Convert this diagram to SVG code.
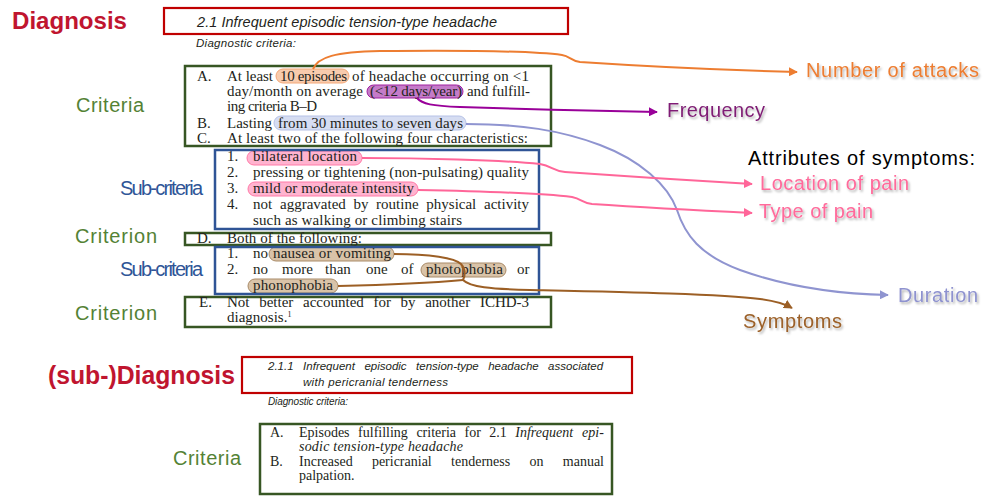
<svg xmlns="http://www.w3.org/2000/svg" width="983" height="496" viewBox="0 0 983 496">
<defs>
<style>
.body{font-family:"Liberation Serif","Times New Roman",serif;font-size:15px;fill:#231f20}
.body2{font-family:"Liberation Serif","Times New Roman",serif;font-size:14px;fill:#231f20}
.it{font-style:italic}
.head{font-family:"Liberation Sans",Arial,sans-serif;font-style:italic;fill:#231f20}
.lab{font-family:"Liberation Sans",Arial,sans-serif;font-size:20px}
.big{font-family:"Liberation Sans",Arial,sans-serif;font-weight:bold;fill:#c0152f}
.green{fill:#548235}
.blue{fill:#2f5597}
.redbox{fill:none;stroke:#c00000;stroke-width:2.2}
.gbox{fill:none;stroke:#375623;stroke-width:2.5}
.bbox{fill:none;stroke:#2f5496;stroke-width:2.5}
.conn{fill:none;stroke-width:2}
</style>
<filter id="sh" x="-10%" y="-30%" width="130%" height="170%">
<feDropShadow dx="1.5" dy="2" stdDeviation="1.2" flood-color="#000" flood-opacity="0.3"/>
</filter>
<marker id="aO" viewBox="0 0 10 10" refX="9" refY="5" markerWidth="9" markerHeight="9" markerUnits="userSpaceOnUse" orient="auto"><path d="M0,0L10,5L0,10z" fill="#ed7d31"/></marker>
<marker id="aP" viewBox="0 0 10 10" refX="9" refY="5" markerWidth="9" markerHeight="9" markerUnits="userSpaceOnUse" orient="auto"><path d="M0,0L10,5L0,10z" fill="#990099"/></marker>
<marker id="aL" viewBox="0 0 10 10" refX="9" refY="5" markerWidth="9" markerHeight="9" markerUnits="userSpaceOnUse" orient="auto"><path d="M0,0L10,5L0,10z" fill="#8f94d0"/></marker>
<marker id="aK" viewBox="0 0 10 10" refX="9" refY="5" markerWidth="9" markerHeight="9" markerUnits="userSpaceOnUse" orient="auto"><path d="M0,0L10,5L0,10z" fill="#ff6699"/></marker>
<marker id="aB" viewBox="0 0 10 10" refX="9" refY="5" markerWidth="9" markerHeight="9" markerUnits="userSpaceOnUse" orient="auto"><path d="M0,0L10,5L0,10z" fill="#9c5f25"/></marker>
</defs>
<rect width="983" height="496" fill="#fff"/>

<!-- left labels -->
<g id="label-diagnosis"><text class="big" x="12" y="29" font-size="24" textLength="115" lengthAdjust="spacingAndGlyphs">Diagnosis</text></g>
<g id="label-criteria"><text class="lab green" x="76" y="112" font-size="21" textLength="68">Criteria</text></g>
<g id="label-subcriteria-1"><text class="lab blue" x="120" y="195" font-size="15.5" textLength="83">Sub-criteria</text></g>
<g id="label-criterion-D"><text class="lab green" x="75" y="243" font-size="21" textLength="82">Criterion</text></g>
<g id="label-subcriteria-2"><text class="lab blue" x="120" y="276" font-size="15.5" textLength="83">Sub-criteria</text></g>
<g id="label-criterion-E"><text class="lab green" x="75" y="320" font-size="21" textLength="82">Criterion</text></g>
<g id="label-subdiagnosis"><text class="big" x="48" y="384" font-size="25" textLength="187" lengthAdjust="spacingAndGlyphs">(sub-)Diagnosis</text></g>
<g id="label-criteria-2"><text class="lab green" x="173" y="465" font-size="21" textLength="68">Criteria</text></g>

<!-- diagnosis title -->
<g id="diagnosis-title">
<rect class="redbox" x="164" y="8" width="404" height="26"/>
<text class="head" x="197" y="27" font-size="14.5" textLength="300">2.1 Infrequent episodic tension-type headache</text>
<text class="head" x="196" y="47" font-size="11.5" textLength="100">Diagnostic criteria:</text>
</g>

<!-- criteria A-C -->
<g id="criteria-AC">
<rect x="276" y="69" width="73" height="14" rx="7" fill="#f8cbad" stroke="#f4a878" stroke-width="1"/>
<rect x="367" y="85" width="96" height="13" rx="6.5" fill="#c47bc8" stroke="#a020a0" stroke-width="1"/>
<rect x="274" y="116" width="192" height="14" rx="7" fill="#d6ddf2" stroke="#b6c2e6" stroke-width="1"/>
<rect class="gbox" x="185" y="66" width="366" height="80"/>
<g class="body">
<text x="197" y="81">A.</text>
<text x="227" y="81" textLength="46">At least</text>
<text x="280" y="81" textLength="67">10 episodes</text>
<text x="352" y="81" textLength="177">of headache occurring on &lt;1</text>
<text x="227" y="96" textLength="136">day/month on average</text>
<text x="370" y="96" textLength="92">(&lt;12 days/year)</text>
<text x="467" y="96" textLength="63">and fulfill-</text>
<text x="227" y="111" textLength="90">ing criteria B–D</text>
<text x="197" y="128">B.</text>
<text x="227" y="128" textLength="45">Lasting</text>
<text x="278" y="128" textLength="185">from 30 minutes to seven days</text>
<text x="197" y="143">C.</text>
<text x="227" y="143" textLength="301">At least two of the following four characteristics:</text>
</g>
</g>

<!-- sub-criteria 1-4 -->
<g id="subcriteria-1">
<rect x="247" y="151" width="115" height="14" rx="7" fill="#ffb3cf" stroke="#ff7aa8" stroke-width="1"/>
<rect x="248" y="182" width="170" height="14" rx="7" fill="#ffb3cf" stroke="#ff7aa8" stroke-width="1"/>
<rect class="bbox" x="215" y="150" width="324" height="79"/>
<g class="body">
<text x="227" y="161">1.</text>
<text x="253" y="161" textLength="104">bilateral location</text>
<text x="227" y="177">2.</text>
<text x="253" y="177" textLength="276">pressing or tightening (non-pulsating) quality</text>
<text x="227" y="193">3.</text>
<text x="253" y="193" textLength="161">mild or moderate intensity</text>
<text x="227" y="209">4.</text>
<text x="253" y="209">not</text>
<text x="280" y="209">aggravated</text>
<text x="353.4" y="209">by</text>
<text x="376.1" y="209">routine</text>
<text x="426.3" y="209">physical</text>
<text x="484" y="209">activity</text>
<text x="253" y="225" textLength="209">such as walking or climbing stairs</text>
</g>
</g>

<!-- criterion D -->
<g id="criterion-D">
<rect class="gbox" x="185" y="233" width="366" height="12"/>
<g class="body">
<text x="197" y="243">D.</text>
<text x="227" y="243" textLength="135">Both of the following:</text>
</g>
</g>

<!-- sub-criteria D1-2 -->
<g id="subcriteria-2">
<rect x="269" y="247" width="125" height="14" rx="7" fill="#d9c3a8" stroke="#a98b68" stroke-width="1"/>
<rect x="421" y="263" width="85" height="14" rx="7" fill="#d9c3a8" stroke="#a98b68" stroke-width="1"/>
<rect x="248" y="279" width="90" height="14" rx="7" fill="#d9c3a8" stroke="#a98b68" stroke-width="1"/>
<rect class="bbox" x="215" y="247" width="324" height="47"/>
<g class="body">
<text x="227" y="258">1.</text>
<text x="253" y="258">no</text>
<text x="273" y="258" textLength="118">nausea or vomiting</text>
<text x="227" y="274">2.</text>
<text x="253" y="274">no</text>
<text x="282" y="274">more</text>
<text x="325" y="274">than</text>
<text x="366" y="274">one</text>
<text x="401" y="274">of</text>
<text x="426" y="274" textLength="77">photophobia</text>
<text x="517" y="274">or</text>
<text x="253" y="290" textLength="80">phonophobia</text>
</g>
</g>

<!-- criterion E -->
<g id="criterion-E">
<rect class="gbox" x="185" y="297" width="366" height="30"/>
<g class="body">
<text x="199" y="307">E.</text>
<text x="227" y="307">Not</text>
<text x="259.2" y="307">better</text>
<text x="303" y="307">accounted</text>
<text x="373.4" y="307">for</text>
<text x="400.6" y="307">by</text>
<text x="425.2" y="307">another</text>
<text x="479.9" y="307">ICHD-3</text>
<text x="227" y="322">diagnosis.<tspan font-size="8" dy="-5">1</tspan></text>
</g>
</g>

<!-- sub-diagnosis title -->
<g id="subdiagnosis-title">
<rect class="redbox" x="242" y="357" width="390" height="36"/>
<g class="head" font-size="11.5">
<text x="268" y="370">2.1.1</text>
<text x="303.1" y="370">Infrequent</text>
<text x="364.4" y="370">episodic</text>
<text x="416.1" y="370">tension-type</text>
<text x="488.2" y="370">headache</text>
<text x="548.1" y="370">associated</text>
<text x="303" y="386" textLength="145">with pericranial tenderness</text>
</g>
<text class="head" x="268" y="405" font-size="10" textLength="80">Diagnostic criteria:</text>
</g>

<!-- sub-diagnosis criteria -->
<g id="subdiagnosis-criteria">
<rect class="gbox" x="260" y="424" width="352" height="70"/>
<g class="body2">
<text x="270" y="437">A.</text>
<text x="299" y="437">Episodes</text>
<text x="358.1" y="437">fulfilling</text>
<text x="416.4" y="437">criteria</text>
<text x="464.5" y="437">for</text>
<text x="489.3" y="437">2.1</text>
<text class="it" x="515.3" y="437">Infrequent</text>
<text class="it" x="582.1" y="437">epi-</text>
<text class="it" x="299" y="451" textLength="164">sodic tension-type headache</text>
<text x="270" y="466">B.</text>
<text x="299" y="466">Increased</text>
<text x="371.9" y="466">pericranial</text>
<text x="451.1" y="466">tenderness</text>
<text x="529.5" y="466">on</text>
<text x="562.8" y="466">manual</text>
<text x="299" y="480">palpation.</text>
</g>
</g>

<!-- right labels -->
<g id="label-number-of-attacks"><text class="lab" x="806" y="77" fill="#ed7d31" textLength="173" filter="url(#sh)">Number of attacks</text></g>
<g id="label-frequency"><text class="lab" x="667" y="117" fill="#7f1f74" textLength="98" filter="url(#sh)">Frequency</text></g>
<g id="label-attributes"><text class="lab" x="748" y="165" fill="#000" textLength="227">Attributes of symptoms:</text></g>
<g id="label-location"><text class="lab" x="760" y="190" fill="#ff6b9b" textLength="149" filter="url(#sh)">Location of pain</text></g>
<g id="label-type"><text class="lab" x="759" y="218" fill="#ff6b9b" textLength="114" filter="url(#sh)">Type of pain</text></g>
<g id="label-duration"><text class="lab" x="898" y="302" fill="#8e92cf" textLength="80" filter="url(#sh)">Duration</text></g>
<g id="label-symptoms"><text class="lab" x="743" y="328" fill="#9c6129" textLength="99" filter="url(#sh)">Symptoms</text></g>

<!-- connectors -->
<g id="connectors">
<path class="conn" stroke="#ed7d31" marker-end="url(#aO)" d="M313,69 C318,57 335,52 380,51 C480,50 540,52 562,55 C570,56 571,61 580,62 C640,66 720,70 797,72"/>
<path class="conn" stroke="#990099" marker-end="url(#aP)" d="M417,98 C422,104 432,106 460,107 C520,109 600,111 657,112"/>
<path class="conn" stroke="#8f94d0" marker-end="url(#aL)" d="M466,124 C520,124 560,130 600,145 C640,160 668,185 677,210 C685,235 700,255 740,270 C790,288 840,294 888,295"/>
<path class="conn" stroke="#ff6699" marker-end="url(#aK)" d="M362,158 C420,158 500,160 540,164 C552,166 553,171 565,172 C620,176 700,181 752,184"/>
<path class="conn" stroke="#ff6699" marker-end="url(#aK)" d="M418,190 C470,191 540,193 572,197 C582,199 582,203 592,204 C650,208 710,211 752,213"/>
<path class="conn" stroke="#9c5f25" d="M394,254 C430,254 455,258 461,264 C466,270 465,276 463,280"/>
<path class="conn" stroke="#9c5f25" d="M338,286 C380,285 430,283 463,280"/>
<path class="conn" stroke="#9c5f25" marker-end="url(#aB)" d="M463,280 C470,287 490,289 530,290 C620,292 720,294 760,299 C775,301 785,304 792,308"/>
</g>
</svg>
